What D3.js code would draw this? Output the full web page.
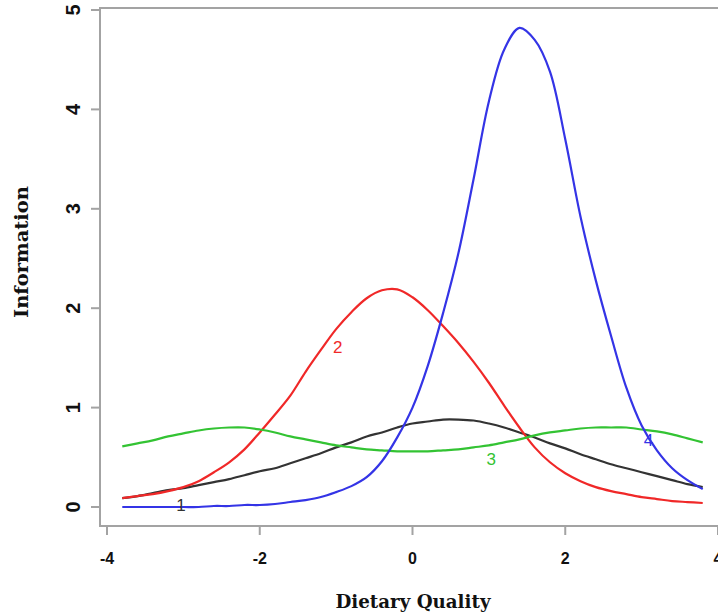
<!DOCTYPE html>
<html>
<head>
<meta charset="utf-8">
<script src="https://cdn.jsdelivr.net/npm/d3@7"></script>
<style>
  body { margin: 0; background: #fff; }
  svg { display: block; }
</style>
</head>
<body>
<svg id="chart" width="718" height="616"></svg>
<script>
// theta grid, read every 0.2 from the picture
const theta = [-3.8, -3.6, -3.4, -3.2, -3.0, -2.8, -2.6, -2.4, -2.2, -2.0,
  -1.8, -1.6, -1.4, -1.2, -1.0, -0.8, -0.6, -0.4, -0.2, 0.0,
  0.2, 0.4, 0.6, 0.8, 1.0, 1.2, 1.4, 1.6, 1.8, 2.0,
  2.2, 2.4, 2.6, 2.8, 3.0, 3.2, 3.4, 3.6, 3.8];

const item1 = [0.09, 0.11, 0.14, 0.17, 0.19, 0.22, 0.25, 0.28, 0.32, 0.36,
  0.39, 0.44, 0.49, 0.54, 0.60, 0.65, 0.71, 0.75, 0.80, 0.84,
  0.86, 0.88, 0.88, 0.87, 0.84, 0.80, 0.75, 0.70, 0.64, 0.59,
  0.53, 0.48, 0.43, 0.39, 0.35, 0.31, 0.27, 0.23, 0.20];

const item2 = [0.09, 0.11, 0.13, 0.16, 0.20, 0.26, 0.35, 0.45, 0.58, 0.75,
  0.93, 1.12, 1.36, 1.58, 1.79, 1.96, 2.10, 2.18, 2.19, 2.11,
  1.98, 1.82, 1.65, 1.46, 1.25, 1.02, 0.80, 0.60, 0.45, 0.34,
  0.26, 0.20, 0.16, 0.13, 0.10, 0.08, 0.06, 0.05, 0.04];

const item3 = [0.61, 0.64, 0.67, 0.71, 0.74, 0.77, 0.79, 0.80, 0.80, 0.78,
  0.75, 0.71, 0.68, 0.65, 0.62, 0.60, 0.58, 0.57, 0.56, 0.56,
  0.56, 0.57, 0.58, 0.60, 0.62, 0.65, 0.68, 0.72, 0.75, 0.77,
  0.79, 0.80, 0.80, 0.80, 0.78, 0.76, 0.73, 0.69, 0.65];

const item4 = [0.00, 0.00, 0.00, 0.00, 0.00, 0.00, 0.01, 0.01, 0.02, 0.02,
  0.03, 0.05, 0.07, 0.10, 0.15, 0.21, 0.30, 0.46, 0.70, 1.00,
  1.42, 1.95, 2.55, 3.30, 4.08, 4.60, 4.82, 4.70, 4.38, 3.70,
  2.92, 2.28, 1.72, 1.20, 0.82, 0.57, 0.39, 0.27, 0.18];

const itemNames = ['1', '2', '3', '4'];
const itemColors = ['#333333', '#f02828', '#33c333', '#3434e6'];
// where each curve number is written (theta, information)
const labelTheta = [-3.03, -0.98, 1.03, 3.09];
const labelInfo = [0.02, 1.61, 0.48, 0.67];

const xTicks = [-4, -2, 0, 2, 4];
const yTicks = [0, 1, 2, 3, 4, 5];

const svg = d3.select('#chart');
const frame = { left: 100, top: 8, bottom: 526, right: 740 };

const x = d3.scaleLinear().domain([-4, 4]).range([107, 718]);
const y = d3.scaleLinear().domain([0, 5]).range([507, 10]);

const series = [item1, item2, item3, item4];

// box (right side runs off the picture)
svg.append('path')
  .attr('d', `M${frame.right},${frame.top}H${frame.left}V${frame.bottom}H${frame.right}`)
  .attr('fill', 'none')
  .attr('stroke', '#a3a3a3')
  .attr('stroke-width', 2);

// y axis ticks and rotated labels
const yAxisG = svg.append('g');
yAxisG.selectAll('line')
  .data(yTicks)
  .join('line')
  .attr('x1', 91).attr('x2', frame.left)
  .attr('y1', (d) => y(d)).attr('y2', (d) => y(d))
  .attr('stroke', '#a3a3a3')
  .attr('stroke-width', 2);
yAxisG.selectAll('text')
  .data(yTicks)
  .join('text')
  .attr('transform', (d) => `translate(80,${y(d)}) rotate(-90)`)
  .attr('text-anchor', 'middle')
  .attr('font-family', 'Liberation Sans, Arial, sans-serif')
  .attr('font-weight', 'bold')
  .attr('font-size', 20)
  .attr('fill', '#111')
  .text((d) => d);

// x axis ticks and labels
const xAxisG = svg.append('g');
xAxisG.selectAll('line')
  .data(xTicks)
  .join('line')
  .attr('x1', (d) => x(d)).attr('x2', (d) => x(d))
  .attr('y1', frame.bottom).attr('y2', 535)
  .attr('stroke', '#a3a3a3')
  .attr('stroke-width', 2);
xAxisG.selectAll('text')
  .data(xTicks)
  .join('text')
  .attr('x', (d) => x(d))
  .attr('y', 564)
  .attr('text-anchor', 'middle')
  .attr('font-family', 'Liberation Sans, Arial, sans-serif')
  .attr('font-weight', 'bold')
  .attr('font-size', 16)
  .attr('fill', '#111')
  .text((d) => d);

// axis titles
svg.append('text')
  .attr('x', 413)
  .attr('y', 608)
  .attr('text-anchor', 'middle')
  .attr('font-family', 'DejaVu Serif, serif')
  .attr('font-weight', 'bold')
  .attr('font-size', 18)
  .attr('textLength', 155)
  .attr('lengthAdjust', 'spacingAndGlyphs')
  .attr('fill', '#111')
  .text('Dietary Quality');

svg.append('text')
  .attr('transform', 'translate(28,252) rotate(-90)')
  .attr('text-anchor', 'middle')
  .attr('font-family', 'DejaVu Serif, serif')
  .attr('font-weight', 'bold')
  .attr('font-size', 18)
  .attr('textLength', 132)
  .attr('lengthAdjust', 'spacingAndGlyphs')
  .attr('fill', '#111')
  .text('Information');

// information curves
const line = d3.line()
  .x((d) => x(d[0]))
  .y((d) => y(d[1]))
  .curve(d3.curveCatmullRom.alpha(0.5));

svg.append('g')
  .selectAll('path')
  .data(series)
  .join('path')
  .attr('d', (s) => line(theta.map((t, i) => [t, s[i]])))
  .attr('fill', 'none')
  .attr('stroke', (s, i) => itemColors[i])
  .attr('stroke-width', 2.2);

// curve numbers
svg.append('g')
  .selectAll('text')
  .data(itemNames)
  .join('text')
  .attr('x', (d, i) => x(labelTheta[i]))
  .attr('y', (d, i) => y(labelInfo[i]))
  .attr('dy', '0.35em')
  .attr('text-anchor', 'middle')
  .attr('font-family', 'Liberation Sans, Arial, sans-serif')
  .attr('font-size', 17)
  .attr('fill', (d, i) => itemColors[i])
  .text((d) => d);
</script>
</body>
</html>
